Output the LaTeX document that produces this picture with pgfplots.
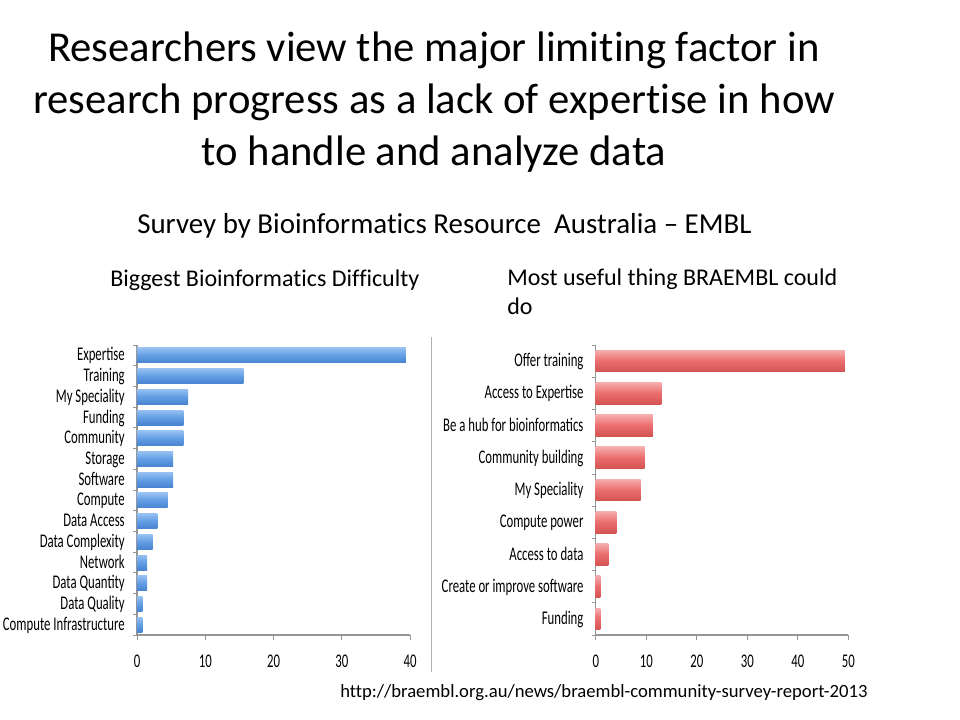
\documentclass[border=0pt]{standalone}
\usepackage{fontspec}
\setmainfont{Carlito}[Ligatures=NoCommon]
\newfontfamily\lab[FakeStretch=0.66]{Carlito}
\usepackage{pgfplots}
\pgfplotsset{compat=1.18}
\definecolor{axgray}{RGB}{150,150,150}
\definecolor{sepgray}{RGB}{175,175,175}
\definecolor{bTop}{RGB}{150,192,242}
\definecolor{bMid}{RGB}{98,157,228}
\definecolor{bBot}{RGB}{72,132,208}
\definecolor{rTop}{RGB}{246,172,172}
\definecolor{rMid}{RGB}{234,108,108}
\definecolor{rBot}{RGB}{212,84,84}

\pgfplotsset{
  survey/.style={
    scale only axis,
    xbar,
    axis x line*=bottom,
    axis y line*=left,
    axis line style={axgray, line width=0.8pt},
    xmin=0,
    enlarge x limits=false,
    tick align=outside,
    major tick length=3.5pt,
    tick style={axgray, line width=0.6pt},
    major y tick style={draw=none},
    minor tick length=3pt,
    /pgf/number format/assume math mode=true,
    tick label style={font=\lab\fontsize{14.5}{16}\selectfont, text=black},
    y tick label style={inner sep=0pt, xshift=-5.5pt, yshift=-1pt, text height=9pt, text depth=2.6pt},
    x tick label style={inner sep=0pt, yshift=-11pt},
  },
  bluebar/.style={draw=none, bar shift=0pt, top color=bTop, bottom color=bBot, middle color=bMid},
  redbar/.style={draw=none, bar shift=0pt, top color=rTop, bottom color=rBot, middle color=rMid},
}

\begin{document}
\begin{tikzpicture}
\path[use as bounding box] (0,0) rectangle (720pt,-540pt);

% headings
\node[anchor=base, font=\fontsize{32}{38}\selectfont] at (325.5pt,-46.5pt) {Researchers view the major limiting factor in};
\node[anchor=base, font=\fontsize{32}{38}\selectfont] at (325.5pt,-85.5pt) {research progress as a lack of expertise in how};
\node[anchor=base, font=\fontsize{32}{38}\selectfont] at (325.5pt,-124.5pt) {to handle and analyze data};
\node[anchor=base west, inner sep=0pt, font=\fontsize{21.7}{26}\selectfont] at (102.75pt,-175.5pt) {Survey by Bioinformatics Resource\ \ Australia -- EMBL};
\node[anchor=base west, inner sep=0pt, font=\fontsize{18}{21.6}\selectfont] at (82.5pt,-215pt) {Biggest Bioinformatics Difficulty};
\node[anchor=base west, inner sep=0pt, font=\fontsize{18}{21.6}\selectfont] at (380.25pt,-214.5pt) {Most useful thing BRAEMBL could};
\node[anchor=base west, inner sep=0pt, font=\fontsize{18}{21.6}\selectfont] at (380.25pt,-236.25pt) {do};
\node[anchor=base west, inner sep=0pt, font=\fontsize{14}{17}\selectfont] at (255pt,-522.75pt) {http://braembl.org.au/news/braembl-community-survey-report-2013};

% separator
\draw[sepgray, line width=1.1pt] (323.8pt,-252.75pt) -- (323.8pt,-504pt);

% left chart: biggest difficulty
\begin{axis}[survey,
  at={(102.75pt,-476.25pt)}, anchor=south west,
  width=204.75pt, height=217.5pt,
  xmax=40, xtick={0,10,20,30,40},
  ymin=-0.5, ymax=13.5,
  ytick={0,...,13},
  minor ytick={-0.5,0.5,...,13.5},
  yticklabels={Compute Infrastructure, Data Quality, Data Quantity, Network, Data Complexity, Data Access, Compute, Software, Storage, Community, Funding, My Speciality, Training, Expertise},
  bar width=11.25pt,
]
\addplot[bluebar] coordinates {(0.8,0)};
\addplot[bluebar] coordinates {(0.8,1)};
\addplot[bluebar] coordinates {(1.5,2)};
\addplot[bluebar] coordinates {(1.5,3)};
\addplot[bluebar] coordinates {(2.3,4)};
\addplot[bluebar] coordinates {(3.0,5)};
\addplot[bluebar] coordinates {(4.5,6)};
\addplot[bluebar] coordinates {(5.3,7)};
\addplot[bluebar] coordinates {(5.3,8)};
\addplot[bluebar] coordinates {(6.8,9)};
\addplot[bluebar] coordinates {(6.8,10)};
\addplot[bluebar] coordinates {(7.5,11)};
\addplot[bluebar] coordinates {(15.6,12)};
\addplot[bluebar] coordinates {(39.4,13)};
\end{axis}

% right chart: most useful thing
\begin{axis}[survey,
  at={(446.8pt,-476.25pt)}, anchor=south west,
  width=189.45pt, height=217.5pt,
  xmax=50, xtick={0,10,20,30,40,50},
  ymin=-0.5, ymax=8.5,
  ytick={0,...,8},
  minor ytick={-0.5,0.5,...,8.5},
  yticklabels={Funding, Create or improve software, Access to data, Compute power, My Speciality, Community building, Be a hub for bioinformatics, Access to Expertise, Offer training},
  bar width=16.25pt,
]
\addplot[redbar] coordinates {(0.9,0)};
\addplot[redbar] coordinates {(0.9,1)};
\addplot[redbar] coordinates {(2.5,2)};
\addplot[redbar] coordinates {(4.1,3)};
\addplot[redbar] coordinates {(8.9,4)};
\addplot[redbar] coordinates {(9.7,5)};
\addplot[redbar] coordinates {(11.3,6)};
\addplot[redbar] coordinates {(13.0,7)};
\addplot[redbar] coordinates {(49.3,8)};
\end{axis}
\end{tikzpicture}
\end{document}
